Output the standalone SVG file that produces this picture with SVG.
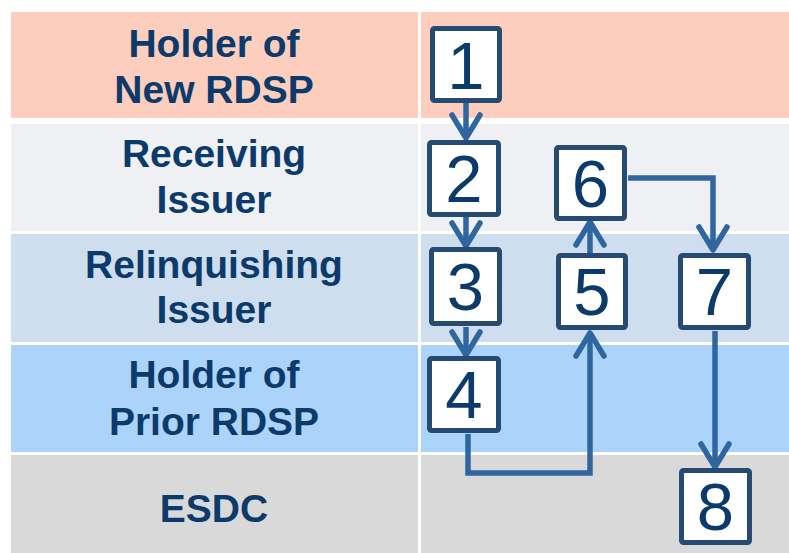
<svg xmlns="http://www.w3.org/2000/svg" width="789" height="553" viewBox="0 0 789 553">
<style>
.lbl{font-family:"Liberation Sans",Arial,sans-serif;font-weight:bold;font-size:39px;fill:#0b3a6b;text-anchor:middle}
.num{font-family:"Liberation Sans",Arial,sans-serif;font-size:67px;fill:#0b3a6b;text-anchor:middle}
.box{fill:#fff;stroke:#254b72;stroke-width:5}
.con{fill:none;stroke:#2f66a0;stroke-width:5.5;marker-end:url(#arr)}
</style>
<defs>
<marker id="arr" markerUnits="userSpaceOnUse" markerWidth="40" markerHeight="40" viewBox="-30 -20 40 40" refX="0" refY="0" orient="auto">
<path d="M-23,-14 L0,0 L-23,14" fill="none" stroke="#2f66a0" stroke-width="5.5" stroke-linecap="round" stroke-linejoin="round"/>
</marker>
</defs>
<rect width="789" height="553" fill="#fff"/>
<g id="lanes">
<rect x="11" y="12" width="407" height="106" fill="#fdcdbd"/>
<rect x="421" y="12" width="368" height="106" fill="#fdcdbd"/>
<rect x="11" y="124" width="407" height="107" fill="#eff0f4"/>
<rect x="421" y="124" width="368" height="107" fill="#eff0f4"/>
<rect x="11" y="234" width="407" height="108" fill="#cfdeef"/>
<rect x="421" y="234" width="368" height="108" fill="#cfdeef"/>
<rect x="11" y="345" width="407" height="107" fill="#acd4fb"/>
<rect x="421" y="345" width="368" height="107" fill="#acd4fb"/>
<rect x="11" y="455" width="407" height="98" fill="#d9d9d9"/>
<rect x="421" y="455" width="368" height="98" fill="#d9d9d9"/>
<text class="lbl" x="214" y="57">Holder of</text>
<text class="lbl" x="214" y="103">New RDSP</text>
<text class="lbl" x="214" y="167">Receiving</text>
<text class="lbl" x="214" y="213">Issuer</text>
<text class="lbl" x="214" y="278">Relinquishing</text>
<text class="lbl" x="214" y="323">Issuer</text>
<text class="lbl" x="214" y="388">Holder of</text>
<text class="lbl" x="214" y="435">Prior RDSP</text>
<text class="lbl" x="214" y="522">ESDC</text>
</g>
<g id="connectors">
<path class="con" d="M466,102 V138"/>
<path class="con" d="M466,217 V246"/>
<path class="con" d="M466,327 V355"/>
<path class="con" d="M468,434 V473 H590 V333"/>
<path class="con" d="M590,253 V222"/>
<path class="con" d="M628,178 H713 V250"/>
<path class="con" d="M715,331 V467"/>
</g>
<g id="n1"><rect class="box" x="432.5" y="28.5" width="67" height="72" rx="2"/><text class="num" x="466" y="89">1</text></g>
<g id="n2"><rect class="box" x="429.5" y="142.5" width="69" height="72" rx="2"/><text class="num" x="464" y="202">2</text></g>
<g id="n3"><rect class="box" x="431.5" y="249.5" width="68" height="74" rx="2"/><text class="num" x="465.5" y="310">3</text></g>
<g id="n4"><rect class="box" x="429.5" y="358.5" width="69" height="72" rx="2"/><text class="num" x="464" y="418">4</text></g>
<g id="n5"><rect class="box" x="558.5" y="255.5" width="67" height="72" rx="2"/><text class="num" x="592" y="315">5</text></g>
<g id="n6"><rect class="box" x="556.5" y="147.5" width="68" height="71" rx="2"/><text class="num" x="590.5" y="207">6</text></g>
<g id="n7"><rect class="box" x="680.5" y="255.5" width="68" height="72" rx="2"/><text class="num" x="714.5" y="315">7</text></g>
<g id="n8"><rect class="box" x="681.5" y="470.5" width="68" height="72" rx="2"/><text class="num" x="715.5" y="530">8</text></g>
</svg>
